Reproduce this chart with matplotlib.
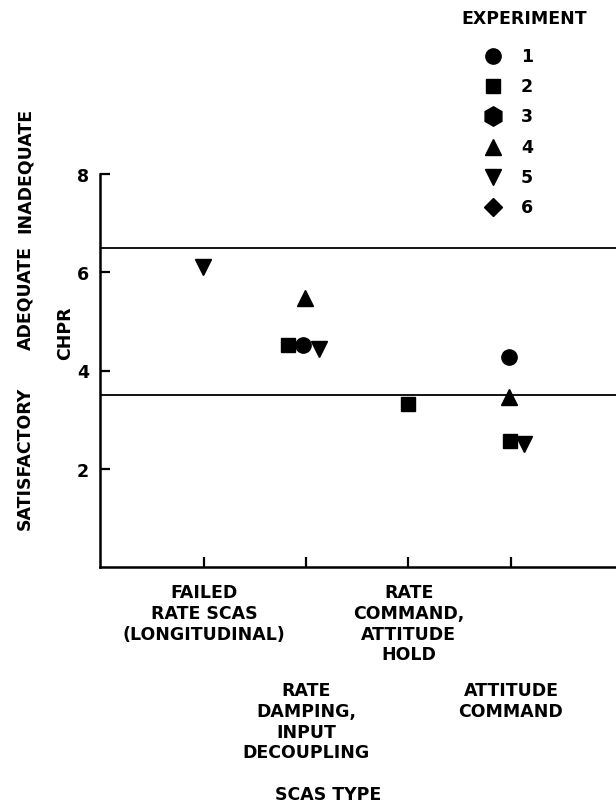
import matplotlib.pyplot as plt
from matplotlib.lines import Line2D

plt.rcParams['font.family'] = ['DejaVu Sans']
plt.rcParams['font.weight'] = 'bold'

# category positions on x axis (1..4)
categories = ["FAILED\nRATE SCAS\n(LONGITUDINAL)",
              "RATE\nDAMPING,\nINPUT\nDECOUPLING",
              "RATE\nCOMMAND,\nATTITUDE\nHOLD",
              "ATTITUDE\nCOMMAND"]

exp1_x = [1.97, 3.98]
exp1_y = [4.52, 4.27]
exp2_x = [1.82, 3.00, 3.99]
exp2_y = [4.52, 3.32, 2.57]
exp4_x = [1.99, 3.98]
exp4_y = [5.48, 3.46]
exp5_x = [0.99, 2.13, 4.13]
exp5_y = [6.10, 4.43, 2.50]

boundaries = [6.5, 3.5]
yticks = [2, 4, 6, 8]
legend_labels = ['1', '2', '3', '4', '5', '6']
legend_markers = ['o', 's', 'h', '^', 'v', 'D']
legend_sizes = [11, 10, 14, 11, 11, 9]

tkw = dict(fontsize=12.5, fontweight='bold')

W, H = 616, 803
fig = plt.figure(figsize=(W / 100, H / 100), dpi=100)
ax = fig.add_axes([100 / W, 1 - 568 / H, 1 - 100 / W, (568 - 175) / H])
ax.set_xlim(-0.016, 5.03)
ax.set_ylim(0, 8)

for b in boundaries:
    ax.axhline(b, color='black', lw=1.3)

kw = dict(color='black', ls='none', clip_on=False)
ax.plot(exp1_x, exp1_y, marker='o', ms=11, **kw)
ax.plot(exp2_x, exp2_y, marker='s', ms=10, **kw)
ax.plot(exp4_x, exp4_y, marker='^', ms=11, **kw)
ax.plot(exp5_x, exp5_y, marker='v', ms=11, **kw)

for s in ['top', 'right']:
    ax.spines[s].set_visible(False)
for s in ['left', 'bottom']:
    ax.spines[s].set_linewidth(1.8)

ax.set_yticks(yticks)
ax.set_yticklabels([str(t) for t in yticks], **tkw)
ax.set_xticks([1, 2, 3, 4])
ax.set_xticklabels([])
ax.tick_params(direction='in', length=7, width=1.6, pad=8)

# category labels under axis
for i, lab in enumerate(categories):
    ytop = 584 if i % 2 == 0 else 682
    fig.text((204 + 102.33 * i) / W, 1 - ytop / H, lab, ha='center', va='top',
             linespacing=1.2, **tkw)
fig.text(328 / W, 1 - 795 / H, 'SCAS TYPE', ha='center', va='center', **tkw)

# side labels
fig.text(65 / W, 1 - 333 / H, 'CHPR', rotation=90, ha='center', va='center', **tkw)
for txt, yc in [('SATISFACTORY', 458), ('ADEQUATE', 298), ('INADEQUATE', 170)]:
    fig.text(25 / W, 1 - yc / H, txt, rotation=90, ha='center', va='center', **tkw)

# legend
fig.text(524 / W, 1 - 19 / H, 'EXPERIMENT', ha='center', va='center', **tkw)
for i, (lab, m, sz) in enumerate(zip(legend_labels, legend_markers, legend_sizes)):
    yy = 1 - (57 + 30.2 * i) / H
    fig.add_artist(Line2D([493 / W], [yy], marker=m, ms=sz, color='black',
                          ls='none', transform=fig.transFigure))
    fig.text(521 / W, yy, lab, ha='left', va='center', **tkw)

fig.savefig('out.png', dpi=100)
